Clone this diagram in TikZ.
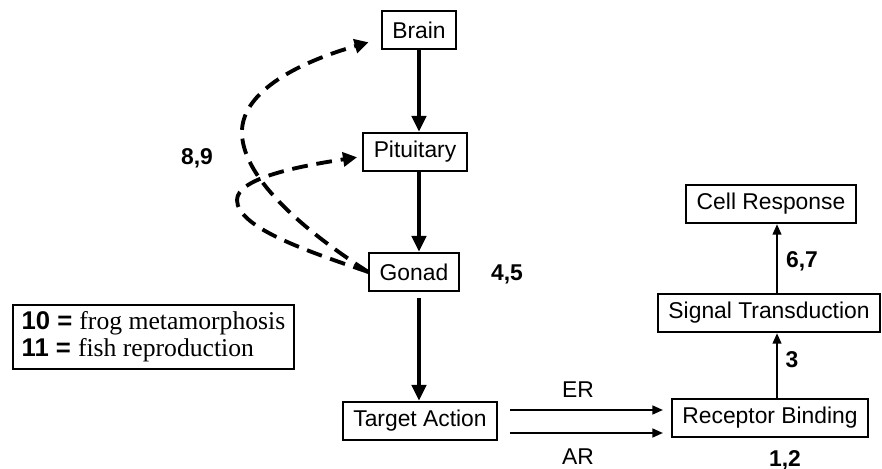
\documentclass[tikz,border=0pt]{standalone}
\usepackage{fontspec}
\setmainfont{Liberation Sans}
\newfontfamily\legendserif{Liberation Serif}
\usetikzlibrary{arrows.meta,calc}

\begin{document}
\begin{tikzpicture}[x=0.02cm,y=-0.02cm,
  box/.style={draw,line width=1pt,inner xsep=6pt,minimum height=22pt,font=\fontsize{13}{15}\selectfont},
  num/.style={font=\fontsize{13}{15}\selectfont\bfseries},
  lbl/.style={font=\fontsize{13}{15}\selectfont},
  hpg/.style={line width=2.2pt,-{Triangle[length=9pt,width=8pt]}},
  sig/.style={line width=1.1pt,-{Triangle[length=6pt,width=5pt]}},
  feedback/.style={line width=2.2pt,dash pattern=on 9pt off 5pt,-{Triangle[length=8pt,width=8pt]}}]
\useasboundingbox (0,0) rectangle (882,469);
% axis boxes
\node[box] (brain) at (419,30) {Brain};
\node[box] (pit) at (415,152) {Pituitary};
\node[box] (gonad) at (414,272) {Gonad};
\node[box] (target) at (420,421) {Target Action};
% cell boxes
\node[box] (receptor) at (770,418) {Receptor Binding};
\node[box] (signal) at (769,313) {Signal Transduction};
\node[box] (cell) at (771,204) {Cell Response};
% numbers
\node[num] (n89) at (197,158) {8,9};
\node[num] (n45) at (507,274) {4,5};
\node[num] (n67) at (802,261) {6,7};
\node[num] (n3) at (792,360) {3};
\node[num] (n12) at (785,460) {1,2};
\node[lbl] (er) at (578,390) {ER};
\node[lbl] (ar) at (578,457) {AR};
% legend
\node[draw,line width=1pt,align=left,anchor=west,inner xsep=5pt,inner ysep=4pt,
  font=\fontsize{14.6}{15.3}\selectfont] (legend) at (12,337)
  {{\bfseries 10 =} {\legendserif frog metamorphosis}\\{\bfseries 11 =} {\legendserif fish reproduction}};
% solid arrows
\draw[hpg] (brain.south) -- (brain.south |- pit.north);
\draw[hpg] (pit.south -| brain.south) -- (brain.south |- gonad.north);
\draw[hpg] ($(gonad.south -| brain.south)+(0,6)$) -- (brain.south |- target.north);
\draw[sig] ($(target.east)+(12,-11)$) -- ($(target.east -| receptor.west)+(-8,-11)$);
\draw[sig] ($(target.east)+(12,12)$) -- ($(target.east -| receptor.west)+(-8,12)$);
\draw[sig] ($(receptor.north)+(7,0)$) -- ($(receptor.north |- signal.south)+(7,0)$);
\draw[sig] ($(signal.north)+(8,0)$) -- ($(signal.north |- cell.south)+(8,0)$);
% dashed loops
\draw[feedback] (gonad.west) .. controls (300,228) and (240,175) .. (242,130)
  .. controls (244,90) and (300,62) .. ([xshift=-7pt,yshift=-7pt]brain.west);
\draw[feedback] (gonad.west) .. controls (310,252) and (237,228) .. (237,200)
  .. controls (237,178) and (300,166) .. ([xshift=-3pt,yshift=-3pt]pit.west);
\end{tikzpicture}
\end{document}
